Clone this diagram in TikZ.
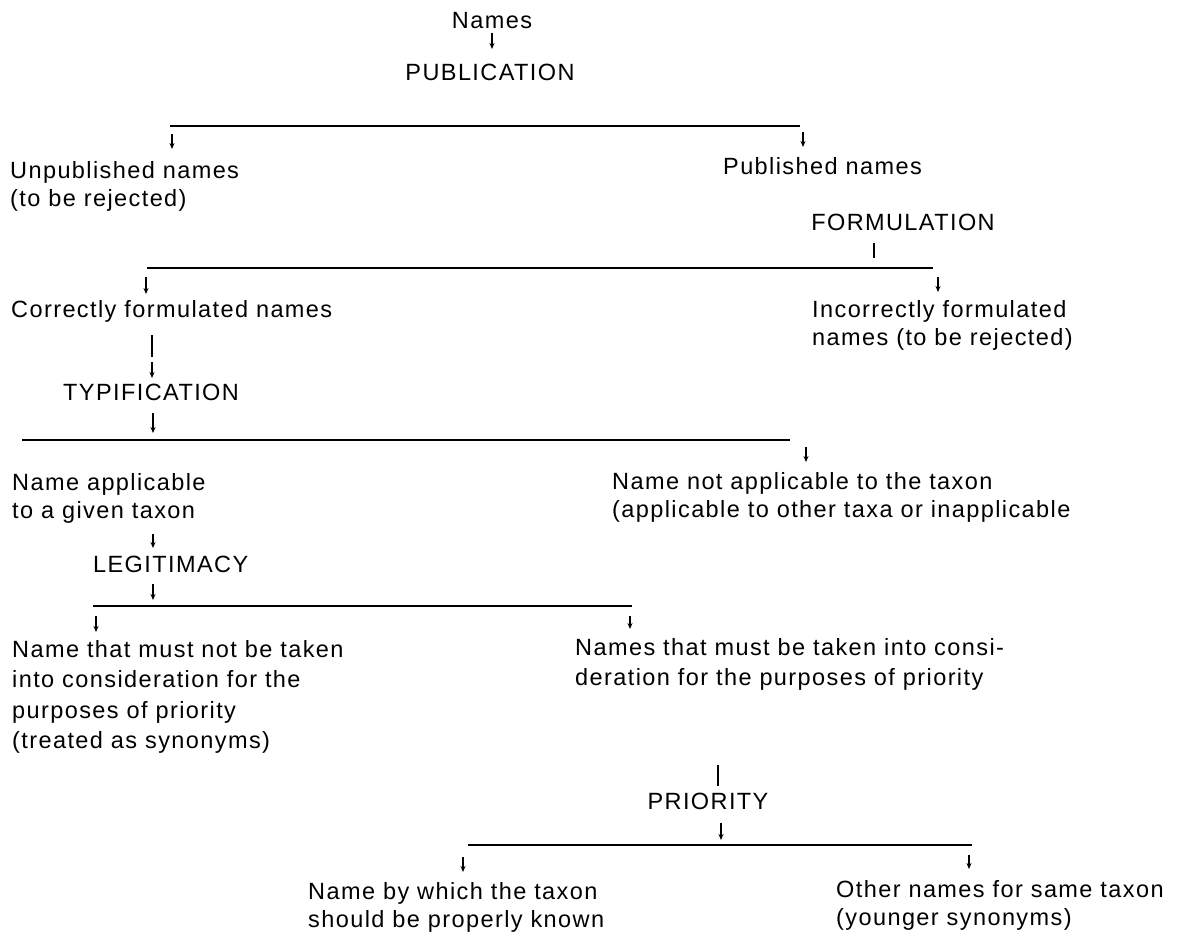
\documentclass[tikz,border=0pt]{standalone}
\usepackage{fontspec}
\setmainfont[LetterSpace=6]{Liberation Sans}
\usetikzlibrary{arrows.meta}
\begin{document}
\begin{tikzpicture}[x=1pt,y=-1pt,
  txt/.style={inner sep=0pt, font=\fontsize{23.5}{28}\selectfont, align=left},
  wide/.style={font=\fontsize{23.5}{30.5}\selectfont},
  arr/.style={line width=1.3pt, -{Stealth[length=6pt,width=5pt]}},
  bar/.style={line width=1.8pt},
  tickline/.style={line width=1.3pt},
  thickbar/.style={line width=2.4pt}]
\useasboundingbox (0,0) rectangle (1182,935);

% texts
\node[txt,anchor=north] (names) at (492,12) {Names};
\node[txt,anchor=north] (pub) at (490,64) {PUBLICATION};
\node[txt,anchor=north west] (unpub) at (10,161) {Unpublished names\\(to be rejected)};
\node[txt,anchor=north west] (publ) at (723,157) {Published names};
\node[txt,anchor=north] (form) at (903,214) {FORMULATION};
\node[txt,anchor=north west] (corr) at (11,300) {Correctly formulated names};
\node[txt,anchor=north west] (incorr) at (812,300) {Incorrectly formulated\\names (to be rejected)};
\node[txt,anchor=north west] (typ) at (63,384) {TYPIFICATION};
\node[txt,anchor=north west] (appl) at (12,473) {Name applicable\\to a given taxon};
\node[txt,anchor=north west] (notappl) at (612,472) {Name not applicable to the taxon\\(applicable to other taxa or inapplicable};
\node[txt,anchor=north west] (legit) at (93,556) {LEGITIMACY};
\node[txt,wide,anchor=north west] (notcons) at (12,640) {Name that must not be taken\\into consideration for the\\purposes of priority\\(treated as synonyms)};
\node[txt,wide,anchor=north west] (cons) at (575,638) {Names that must be taken into consi-\\deration for the purposes of priority};
\node[txt,anchor=north] (prio) at (708,793) {PRIORITY};
\node[txt,anchor=north west] (known) at (308,882) {Name by which the taxon\\should be properly known};
\node[txt,anchor=north west] (other) at (836,880) {Other names for same taxon\\(younger synonyms)};

% branch line end points
\coordinate (l1a) at (170,126); \coordinate (l1b) at (800,126);
\coordinate (l2a) at (147,268); \coordinate (l2b) at (933,268);
\coordinate (l3a) at (22,440);  \coordinate (l3b) at (790,440);
\coordinate (l4a) at (93,606);  \coordinate (l4b) at (632,606);
\coordinate (l5a) at (468,845); \coordinate (l5b) at (972,845);

\draw[bar] (l1a) -- (l1b);
\draw[bar] (l2a) -- (l2b);
\draw[bar] (l3a) -- (l3b);
\draw[bar] (l4a) -- (l4b);
\draw[bar] (l5a) -- (l5b);

% Names -> PUBLICATION
\draw[arr] ([yshift=-4pt]names.south) -- ([yshift=15pt]names.south |- pub.north);
% line 1 branches
\draw[arr] ([xshift=2pt,yshift=-8pt]l1a) -- ([xshift=2pt,yshift=12pt]l1a |- unpub.north);
\draw[arr] ([xshift=3pt,yshift=-6pt]l1b) -- ([xshift=3pt,yshift=10pt]l1b |- publ.north);
% FORMULATION tick
\coordinate (ft) at (874,243);
\draw[tickline] (ft) -- ([yshift=10pt]ft |- l2a);
% line 2 branches
\draw[arr] ([xshift=-1pt,yshift=-9pt]l2a) -- ([xshift=-1pt,yshift=6pt]l2a |- corr.north);
\coordinate (l2r) at (938,277);
\draw[arr] (l2r) -- ([yshift=8pt]l2r |- incorr.north);
% Correctly -> TYPIFICATION
\coordinate (cb) at (152,335);
\draw[thickbar] (cb) -- ++(0,22);
\draw[arr] ([yshift=-27pt]cb) -- ([yshift=6pt]cb |- typ.north);
% TYPIFICATION -> line 3
\coordinate (ta) at (153,413);
\draw[arr] (ta) -- ([yshift=7pt]ta |- l3a);
% line 3 right branch
\coordinate (l3r) at (806,447);
\draw[arr] (l3r) -- ([yshift=10pt]l3r |- notappl.north);
% applicable -> LEGITIMACY
\coordinate (aa) at (153,534);
\draw[arr] (aa) -- ([yshift=8pt]aa |- legit.north);
% LEGITIMACY -> line 4
\coordinate (la) at (153,584);
\draw[arr] (la) -- ([yshift=6pt]la |- l4a);
% line 4 branches
\draw[arr] ([xshift=3pt,yshift=-10pt]l4a) -- ([xshift=3pt,yshift=8pt]l4a |- notcons.north);
\draw[arr] ([xshift=-2pt,yshift=-10pt]l4b) -- ([xshift=-2pt,yshift=9pt]l4b |- cons.north);
% PRIORITY
\coordinate (pt) at (718,765);
\draw[tickline] (pt) -- ([yshift=7pt]pt |- prio.north);
\coordinate (pa) at (721,823);
\draw[arr] (pa) -- ([yshift=5pt]pa |- l5a);
% line 5 branches
\draw[arr] ([xshift=-5pt,yshift=-12pt]l5a) -- ([xshift=-5pt,yshift=10pt]l5a |- known.north);
\draw[arr] ([xshift=-3pt,yshift=-10pt]l5b) -- ([xshift=-3pt,yshift=11pt]l5b |- other.north);
\end{tikzpicture}
\end{document}
